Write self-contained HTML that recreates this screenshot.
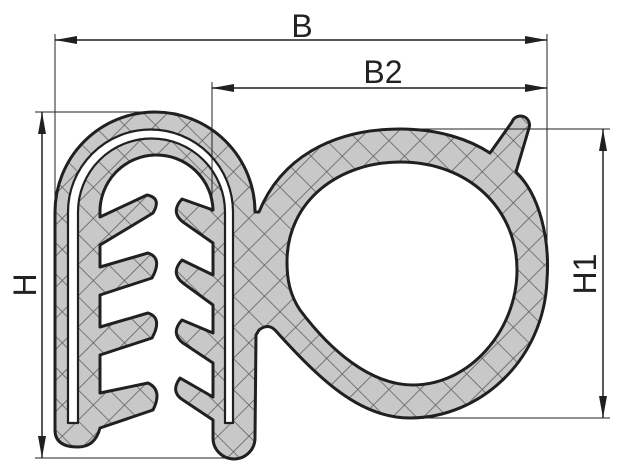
<!DOCTYPE html>
<html><head><meta charset="utf-8"><style>
html,body{margin:0;padding:0;background:#fff;}
svg{display:block}
text{font-family:"Liberation Sans",sans-serif;fill:#222;}
</style></head><body>
<svg width="618" height="470" viewBox="0 0 618 470" xmlns="http://www.w3.org/2000/svg">
<defs>
<pattern id="h" width="22" height="22" patternUnits="userSpaceOnUse" patternTransform="rotate(45)">
<rect width="22" height="22" fill="#c8c8c8"/>
<line x1="0" y1="0" x2="22" y2="0" stroke="#5e5e5e" stroke-width="1.6"/>
<line x1="0" y1="0" x2="0" y2="22" stroke="#5e5e5e" stroke-width="1.6"/>
</pattern>
</defs>
<g stroke="#231f20" stroke-width="3" stroke-linejoin="round" fill="url(#h)">
<path d="M55 212 A100 100 0 0 1 255 212 L259 212 C280 160 330 129 400 129 C440 129 470 140 490 153 L512 122 A9 9 0 0 1 529 128 L516 172 C540 195 550 240 547 280 C544 360 480 418 410 418 C360 418 320 380 275 330 Q268 323 259 330 L256 335 L255 438 A21 21 0 0 1 213 438 L213 420 L183 400 Q170 392 180 378 L213 397 L213 363 L183 343 Q170 333 182 320 L213 333 L213 305 L183 283 Q170 273 182 260 L213 275 L213 243 L183 222 Q170 212 182 199 L213 210 A56.5 56.5 0 0 0 100 213 L100 217 L147 195 Q162 198 153 213 L100 245 L100 267 L148 253 Q163 258 152 278 L100 295 L100 327 L148 313 Q163 318 152 338 L100 355 L100 393 L148 383 Q163 390 153 410 L100 428 Q95 447 78 447 Q55 447 55 430 Z"/>
<path fill="#fff" d="M287 262 C287 200 340 162 400 162 C470 162 517 210 517 270 C517 330 470 385 413 385 C370 385 330 350 300 310 C290 295 287 280 287 262 Z"/>
<path fill="#fff" stroke-width="2.2" d="M68 423 L68 212 A82.5 82.5 0 0 1 233 212 L233 423 L225 423 L225 212 A73.5 73.5 0 0 0 78 212 L78 423 Z"/>
</g>
<g stroke="#231f20" stroke-width="1" fill="none">
<line x1="55" y1="34" x2="55" y2="212"/>
<line x1="547" y1="34" x2="547" y2="275"/>
<line x1="212" y1="82" x2="212" y2="212"/>
<line x1="35" y1="112" x2="155" y2="112"/>
<line x1="35" y1="458" x2="234" y2="458"/>
<line x1="400" y1="129" x2="610" y2="129"/>
<line x1="410" y1="418" x2="610" y2="418"/>
<line x1="55" y1="40" x2="547" y2="40" stroke-width="1.5"/>
<line x1="212" y1="88" x2="547" y2="88" stroke-width="1.5"/>
<line x1="42" y1="112" x2="42" y2="458" stroke-width="1.5"/>
<line x1="603" y1="129" x2="603" y2="418" stroke-width="1.5"/>
</g>
<g fill="#231f20">
<polygon points="55,40 77,36 77,44"/><polygon points="547,40 525,36 525,44"/>
<polygon points="212,88 234,84 234,92"/><polygon points="547,88 525,84 525,92"/>
<polygon points="42,112 38,134 46,134"/><polygon points="42,458 38,436 46,436"/>
<polygon points="603,129 599,151 607,151"/><polygon points="603,418 599,396 607,396"/>
</g>
<text x="302" y="37" font-size="32" text-anchor="middle">B</text>
<text x="383" y="83" font-size="32" text-anchor="middle">B2</text>
<text transform="translate(36,285) rotate(-90)" font-size="32" text-anchor="middle">H</text>
<text transform="translate(596,274) rotate(-90)" font-size="32" text-anchor="middle">H1</text>
</svg>
</body></html>
